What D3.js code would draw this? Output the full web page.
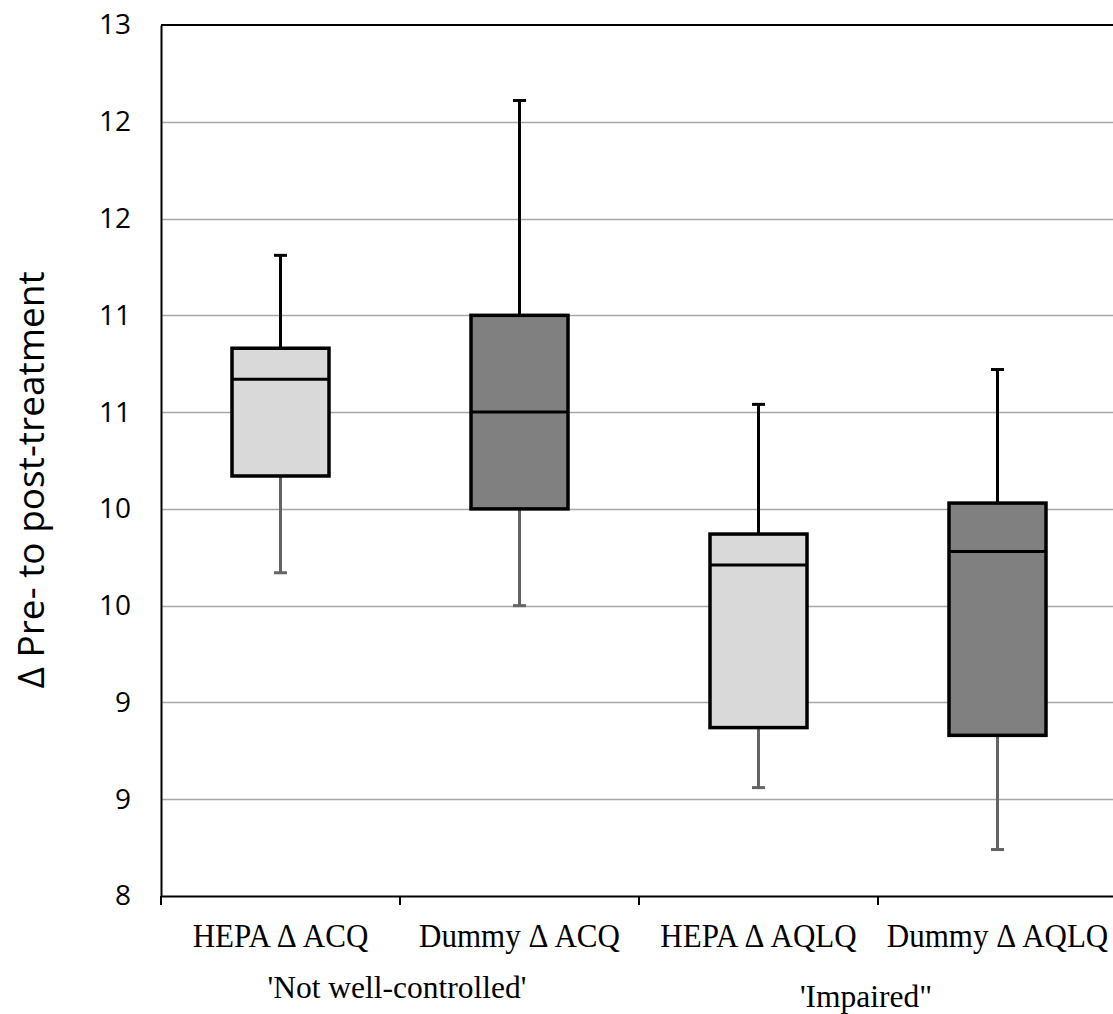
<!DOCTYPE html>
<html>
<head>
<meta charset="utf-8">
<script src="https://cdn.jsdelivr.net/npm/d3@7"></script>
<style>
  body { margin: 0; background: #fff; }
  .tick text { font-family: 'Open Sans', sans-serif; }
</style>
</head>
<body>
<svg id="chart"></svg>
<script>
// box plot values
const categories = ['HEPA \u0394 ACQ', 'Dummy \u0394 ACQ', 'HEPA \u0394 AQLQ', 'Dummy \u0394 AQLQ'];
const minVals = [9.67, 9.50, 8.56, 8.24];
const q1Vals = [10.17, 10.00, 8.87, 8.83];
const medianVals = [10.67, 10.50, 9.71, 9.78];
const q3Vals = [10.83, 11.00, 9.87, 10.03];
const maxVals = [11.31, 12.11, 10.54, 10.72];
const boxFill = ['#d9d9d9', '#808080', '#d9d9d9', '#808080'];
const yTicks = [8, 8.5, 9, 9.5, 10, 10.5, 11, 11.5, 12, 12.5];
const groups = [
  { label: "'Not well-controlled'", from: 0, to: 1 },
  { label: "'Impaired\"", from: 2, to: 3 }
];

const width = 1113, height = 1014;
const margin = { top: 25, right: -4, bottom: 118, left: 161 };

let svg = d3.select('#chart')
  .attr('width', width)
  .attr('height', height);

let x = d3.scaleBand()
  .domain(categories)
  .range([margin.left, width - margin.right]);

let y = d3.scaleLinear()
  .domain([8, 12.5])
  .range([height - margin.bottom, margin.top]);

// gridlines
svg.append('g')
  .selectAll('line')
  .data(yTicks.slice(1, -1))
  .enter()
  .append('line')
  .attr('x1', margin.left)
  .attr('x2', width - margin.right)
  .attr('y1', d => Math.round(y(d)) + 0.5)
  .attr('y2', d => Math.round(y(d)) + 0.5)
  .attr('stroke', '#a6a6a6')
  .attr('stroke-width', 1.5);

// top frame
svg.append('line')
  .attr('x1', margin.left)
  .attr('x2', width - margin.right)
  .attr('y1', y(12.5))
  .attr('y2', y(12.5))
  .attr('stroke', '#000')
  .attr('stroke-width', 2);

// y axis
let yAxis = svg.append('g')
  .attr('transform', 'translate(' + margin.left + ',0)')
  .call(d3.axisLeft(y).tickValues(yTicks).tickSize(0).tickPadding(30)
    .tickFormat(d => Math.round(d)));
yAxis.select('.domain').attr('stroke', '#000').attr('stroke-width', 2);
yAxis.selectAll('.tick text').attr('font-size', 28).attr('fill', '#000');

// x axis
let xAxis = svg.append('g')
  .attr('transform', 'translate(0,' + y(8) + ')')
  .call(d3.axisBottom(x).tickSize(0).tickFormat(''));
xAxis.select('.domain').attr('stroke', '#000').attr('stroke-width', 2);

// category separators
svg.append('g')
  .selectAll('line')
  .data(categories)
  .enter()
  .append('line')
  .attr('x1', d => x(d))
  .attr('x2', d => x(d))
  .attr('y1', y(8))
  .attr('y2', y(8) + 9)
  .attr('stroke', '#000')
  .attr('stroke-width', 2);

// category labels (slightly condensed serif like the original)
svg.append('g')
  .selectAll('text')
  .data(categories)
  .enter()
  .append('text')
  .attr('transform', d => 'translate(' + (x(d) + x.bandwidth() / 2) + ',' + (y(8) + 51) + ') scale(0.94,1)')
  .attr('text-anchor', 'middle')
  .attr('font-family', "'Liberation Serif', 'Times New Roman', serif")
  .attr('font-size', 33)
  .text(d => d);

// group labels
svg.append('g')
  .selectAll('text')
  .data(groups)
  .enter()
  .append('text')
  .attr('x', (d, i) => (x(categories[d.from]) + x(categories[d.to]) + x.bandwidth()) / 2 - [3, 12][i])
  .attr('y', (d, i) => y(8) + [102, 111][i])
  .attr('text-anchor', 'middle')
  .attr('font-family', "'Liberation Serif', 'Times New Roman', serif")
  .attr('font-size', 31.5)
  .text(d => d.label);

// y axis title
svg.append('text')
  .attr('transform', 'translate(44,' + 480 + ') rotate(-90)')
  .attr('text-anchor', 'middle')
  .attr('font-family', "'Open Sans', sans-serif")
  .attr('font-size', 37)
  .text('\u0394 Pre- to post-treatment');

// boxes
let boxW = 97, capW = 13;
let boxes = svg.append('g')
  .selectAll('g')
  .data(categories)
  .enter()
  .append('g')
  .attr('transform', d => 'translate(' + (x(d) + x.bandwidth() / 2) + ',0)');

// lower whisker
boxes.append('line')
  .attr('y1', (d, i) => y(q1Vals[i]))
  .attr('y2', (d, i) => y(minVals[i]))
  .attr('stroke', '#646464')
  .attr('stroke-width', 3);
boxes.append('line')
  .attr('x1', -capW / 2).attr('x2', capW / 2)
  .attr('y1', (d, i) => y(minVals[i]))
  .attr('y2', (d, i) => y(minVals[i]))
  .attr('stroke', '#646464')
  .attr('stroke-width', 3);

// upper whisker
boxes.append('line')
  .attr('y1', (d, i) => y(q3Vals[i]))
  .attr('y2', (d, i) => y(maxVals[i]))
  .attr('stroke', '#000')
  .attr('stroke-width', 3);
boxes.append('line')
  .attr('x1', -capW / 2).attr('x2', capW / 2)
  .attr('y1', (d, i) => y(maxVals[i]))
  .attr('y2', (d, i) => y(maxVals[i]))
  .attr('stroke', '#000')
  .attr('stroke-width', 3);

// box
boxes.append('rect')
  .attr('x', -boxW / 2)
  .attr('width', boxW)
  .attr('y', (d, i) => y(q3Vals[i]))
  .attr('height', (d, i) => y(q1Vals[i]) - y(q3Vals[i]))
  .attr('fill', (d, i) => boxFill[i])
  .attr('stroke', '#000')
  .attr('stroke-width', 3.5);

// median
boxes.append('line')
  .attr('x1', -boxW / 2).attr('x2', boxW / 2)
  .attr('y1', (d, i) => y(medianVals[i]))
  .attr('y2', (d, i) => y(medianVals[i]))
  .attr('stroke', '#000')
  .attr('stroke-width', 3);
</script>
</body>
</html>
